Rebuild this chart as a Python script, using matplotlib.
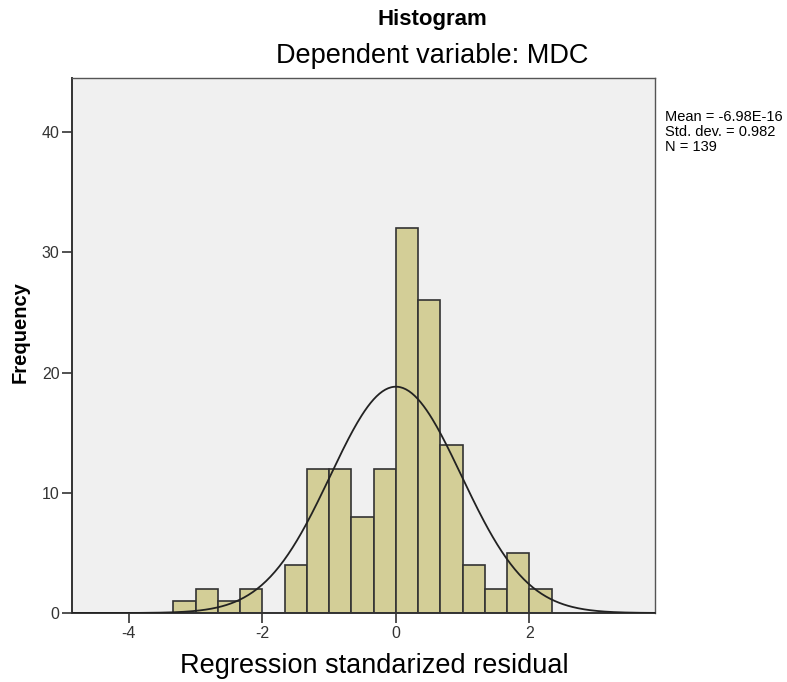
import numpy as np
import matplotlib.pyplot as plt

plt.rcParams['font.family'] = ['Liberation Sans', 'DejaVu Sans']
plt.rcParams['axes.unicode_minus'] = False

# Histogram data (bin width 1/3)
bin_left = -10 / 3
bin_width = 1 / 3
counts = [1, 2, 1, 2, 0, 4, 12, 12, 8, 12, 32, 26, 14, 4, 2, 5, 2]
mean = -6.98e-16
std = 0.982
n = 139

edges = bin_left + bin_width * np.arange(len(counts) + 1)

fig = plt.figure(figsize=(7.87, 6.82), dpi=100)
ax = fig.add_axes([72 / 787, 1 - 613 / 682, (655 - 72) / 787, (613 - 78) / 682])
ax.set_facecolor('#f0f0f0')

ax.bar(edges[:-1], counts, width=bin_width, align='edge',
       color='#d3ce97', edgecolor='#333333', linewidth=1.2, zorder=2)

x = np.linspace(-4.9, 3.9, 400)
pdf = np.exp(-0.5 * ((x - mean) / std) ** 2) / (std * np.sqrt(2 * np.pi))
ax.plot(x, pdf * n * bin_width, color='#222222', linewidth=1.3, zorder=3)

ax.set_xlim(-4.85, 3.88)
ax.set_ylim(0, 44.5)
ax.set_xticks([-4, -2, 0, 2])
ax.set_yticks([0, 10, 20, 30, 40])
ax.tick_params(direction='out', length=7, width=1.2, labelsize=11.5,
               labelcolor='#333333', color='#333333', pad=2)
for s in ['left', 'bottom']:
    ax.spines[s].set_color('#333333')
    ax.spines[s].set_linewidth(1.4)
for s in ['top', 'right']:
    ax.spines[s].set_color('#555555')
    ax.spines[s].set_linewidth(1.0)

fig.text(432 / 787, 1 - 25 / 682, 'Histogram', ha='center', va='baseline',
         fontsize=16, fontweight='bold')
fig.text(432 / 787, 1 - 63 / 682, 'Dependent variable: MDC', ha='center', va='baseline',
         fontsize=19.5)
fig.text(374 / 787, 1 - 673 / 682, 'Regression standarized residual', ha='center', va='baseline',
         fontsize=19.5)
fig.text(20 / 787, 1 - 332 / 682, 'Frequency', ha='center', va='center',
         fontsize=14.5, fontweight='bold', rotation=90)
fig.text(665 / 787, 1 - 132 / 682,
         'Mean = -6.98E-16\nStd. dev. = 0.982\nN = 139',
         ha='left', va='center', fontsize=10.5, linespacing=1.05)

fig.savefig('out.png', dpi=100)
